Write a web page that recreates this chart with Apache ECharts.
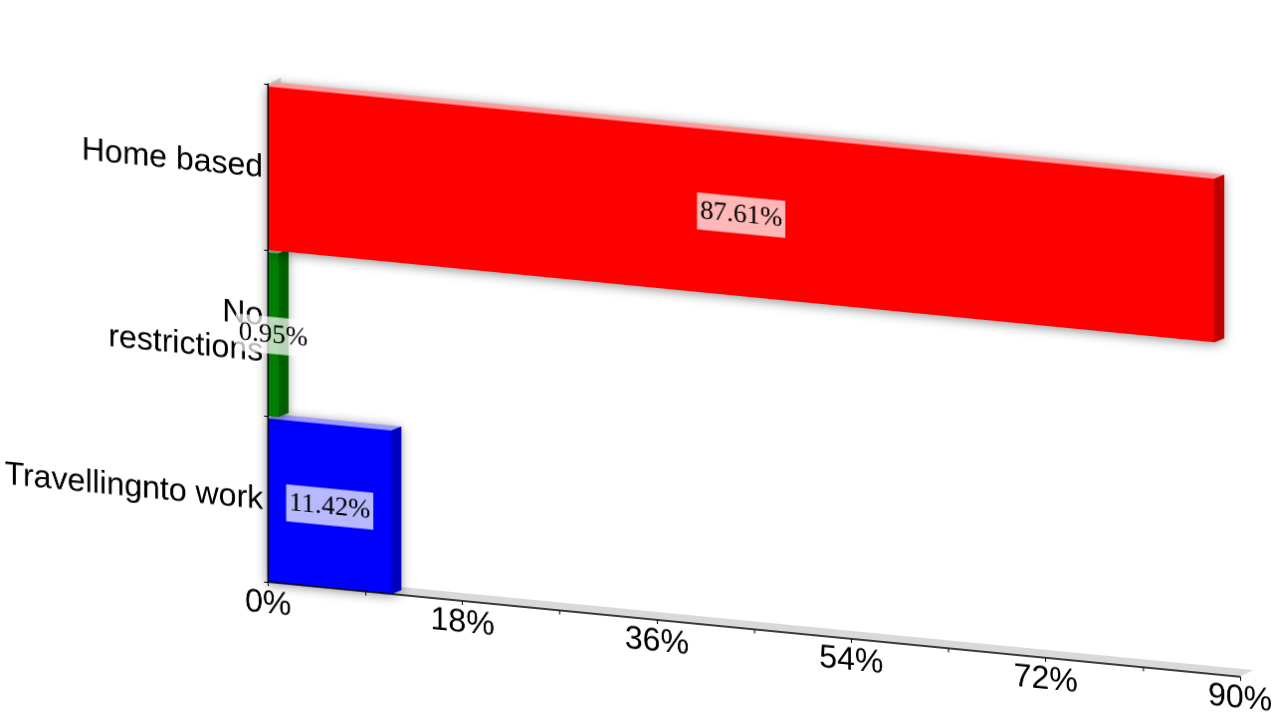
<!DOCTYPE html>
<html><head><meta charset="utf-8">
<style>
html,body{margin:0;padding:0;background:#fff;overflow:hidden;width:1280px;height:720px}
#c{width:1280px;height:720px;transform-origin:268px 582px;transform:matrix(1,0.0975,0,1,0,0)}
</style>
<script src="https://cdn.jsdelivr.net/npm/echarts@6/dist/echarts.min.js"></script>
</head><body><div id="c"></div>
<script>
const categories = ['Home based', 'No\nrestrictions', 'Travellingnto work'];
const values = [87.61, 0.95, 11.42];
const frontColors = ['#ff0000', '#008000', '#0000ff'];
const topColors = ['#ff9999', '#99cc99', '#9999ff'];
const sideColors = ['#c00000', '#006000', '#0000c0'];
const depthX = 10, depthY = -5, wallX = 13, wallY = -8, inset = 2.5;

const rows = values.map((v, i) => [v, i, i]).reverse();
const chart = echarts.init(document.getElementById('c'), null, {devicePixelRatio: 2});

function renderBar(params, api) {
  const i = api.value(2);
  const p0 = api.coord([0, api.value(1)]);
  const p1 = api.coord([api.value(0), api.value(1)]);
  const band = api.size([0, 1])[1];
  const l = p0[0], r = p1[0], t = p0[1] - band / 2 + inset, b = p0[1] + band / 2;
  return {type: 'group', children: [
    {type: 'polygon', shape: {points: [[l, b], [r, b], [r + depthX, b + depthY], [r + depthX, t + depthY], [l + depthX, t + depthY], [l, t]]},
     style: {fill: frontColors[i], shadowBlur: 11, shadowColor: 'rgba(0,0,0,0.45)', shadowOffsetY: 2, shadowOffsetX: -1}},
    {type: 'polygon', shape: {points: [[l, t], [r, t], [r + depthX, t + depthY], [l + depthX, t + depthY]]}, style: {fill: topColors[i]}},
    {type: 'polygon', shape: {points: [[r, t], [r + depthX, t + depthY], [r + depthX, b + depthY], [r, b]]}, style: {fill: sideColors[i]}},
    {type: 'rect', shape: {x: l, y: t, width: r - l, height: b - t}, style: {fill: frontColors[i]}}
  ]};
}
function renderWalls(params) {
  const s = params.coordSys, l = s.x, r = s.x + s.width, t = s.y, b = s.y + s.height;
  return {type: 'group', children: [
    {type: 'polygon', shape: {points: [[l, b], [r, b], [r + wallX, b + wallY], [l + wallX, b + wallY]]}, style: {fill: '#d9d9d9'}},
    {type: 'polygon', shape: {points: [[l, t], [l, b], [l + wallX, b + wallY], [l + wallX, t + wallY]]}, style: {fill: '#d9d9d9'}}
  ]};
}
function renderLabel(params, api) {
  const p = api.coord([api.value(0) / 2, api.value(1)]);
  return {type: 'text', x: p[0], y: p[1] + 2, style: {
    text: api.value(0).toFixed(2) + '%', fontFamily: 'Liberation Serif', fontSize: 26.67, fill: '#000',
    align: 'center', verticalAlign: 'middle', backgroundColor: 'rgba(255,255,255,0.72)', padding: [5, 3, 5, 3]
  }};
}
chart.setOption({
  animation: false,
  backgroundColor: '#fff',
  grid: {left: 268.1, top: 84, width: 972, height: 498, containLabel: false},
  xAxis: {type: 'value', min: 0, max: 90, interval: 18, z: 3,
    axisLine: {show: true, lineStyle: {color: '#000', width: 1.5}},
    axisTick: {show: true, length: 4, lineStyle: {color: '#000'}},
    minorTick: {show: true, splitNumber: 2, length: 4, lineStyle: {color: '#000'}},
    splitLine: {show: false}, minorSplitLine: {show: false},
    axisLabel: {formatter: '{value}%', fontFamily: 'Liberation Sans', fontSize: 32, color: '#000', margin: 6, hideOverlap: false}},
  yAxis: {type: 'category', inverse: true, data: categories, z: 3,
    axisLine: {show: true, lineStyle: {color: '#000', width: 1.5}},
    axisTick: {show: true, length: 4, alignWithLabel: false, lineStyle: {color: '#000'}},
    splitLine: {show: false},
    axisLabel: {fontFamily: 'Liberation Sans', fontSize: 32, lineHeight: 36, color: '#000', margin: 5, interval: 0, hideOverlap: false,
      formatter: v => v.split('\n').map(s => '{a|' + s + '}').join('\n'),
      rich: {a: {fontFamily: 'Liberation Sans', fontSize: 32, lineHeight: 36, color: '#000', padding: [3, 0, 0, 0]}}}},
  series: [
    {type: 'custom', z: 1, renderItem: renderWalls, data: [[0, 0]], silent: true},
    {type: 'custom', z: 2, renderItem: renderBar, data: rows, encode: {x: 0, y: 1}, silent: true},
    {type: 'custom', z: 6, renderItem: renderLabel, data: rows, encode: {x: 0, y: 1}, silent: true}
  ]
});
</script></body></html>
